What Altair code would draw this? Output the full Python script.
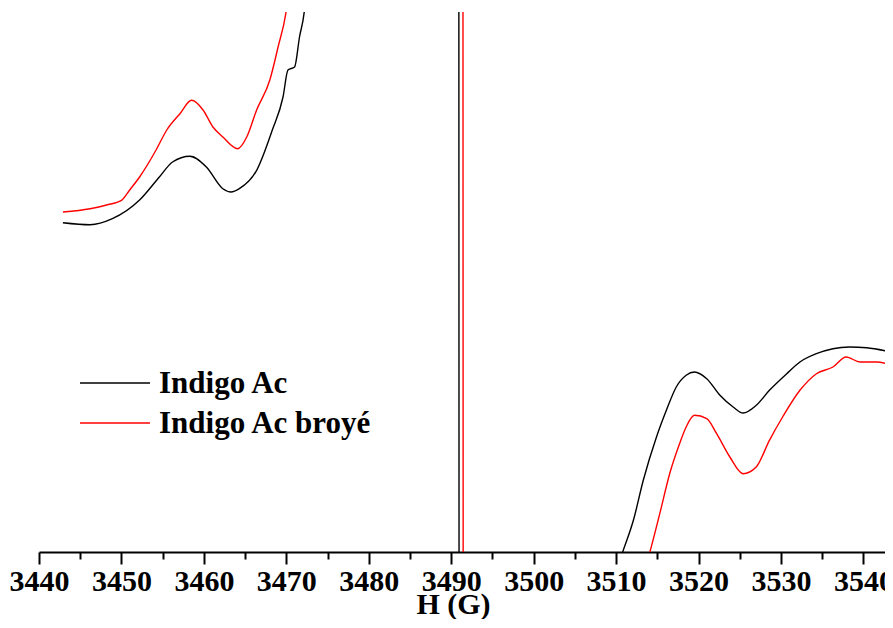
import altair as alt
import pandas as pd

# ---- data (H in gauss, intensity in arbitrary units) ----
series_names = ["Indigo Ac", "Indigo Ac broyé"]
series_colors = ["#000000", "#ff0000"]

black_h = [3442.9, 3446.2, 3448.9, 3452.2, 3454.6, 3456.2, 3458.3, 3460.3, 3462.3,
           3463.3, 3464.3, 3466.4, 3468.3, 3469.6, 3470.2, 3471.0, 3471.6, 3472.2,
           3473.0, 3476.0, 3482.0, 3490.9, 3491.0, 3500.0, 3508.0, 3509.9,
           3510.8, 3512.1, 3513.3, 3514.9, 3516.1, 3517.3, 3518.5, 3519.5, 3521.0,
           3522.6, 3524.2, 3525.4, 3527.0, 3528.6, 3530.7, 3532.3, 3534.3, 3536.3,
           3538.3, 3540.4, 3542.8]
black_i = [329.3, 327.3, 333.3, 352.0, 375.0, 390.0, 395.7, 385.0, 363.3,
           360.0, 363.3, 381.7, 422.0, 455.0, 482.0, 485.0, 515.0, 542.0,
           640.0, 900.0, 1100.0, 1300.0, -1300.0, -500.0, -70.0, -22.0,
           0.0, 31.7, 71.7, 115.0, 141.7, 165.0, 176.7, 180.0, 173.3,
           156.7, 145.0, 139.0, 146.7, 161.7, 178.3, 190.0, 198.3, 203.3,
           205.0, 204.3, 201.0]

red_h = [3442.9, 3446.2, 3448.2, 3450.0, 3451.0, 3452.2, 3454.2, 3455.5, 3457.1,
         3458.5, 3459.9, 3461.1, 3462.3, 3464.1, 3465.2, 3466.4, 3468.0, 3469.0,
         3470.0, 3471.0, 3475.0, 3491.4, 3491.5, 3500.0, 3511.0, 3513.0,
         3514.1, 3515.3, 3516.5, 3517.7, 3518.5, 3519.5, 3521.0, 3522.2, 3523.8,
         3525.4, 3527.0, 3528.6, 3530.2, 3532.3, 3534.3, 3536.3, 3537.9, 3539.6,
         3541.6, 3542.8]
red_i = [340.0, 343.3, 347.0, 351.7, 362.0, 375.0, 402.0, 422.0, 438.3,
         451.7, 442.0, 425.0, 415.0, 403.3, 415.0, 442.0, 472.0, 505.0,
         541.7, 620.0, 900.0, 1300.0, -1300.0, -800.0, -150.0, -30.0,
         0.0, 38.3, 78.3, 108.3, 125.0, 136.7, 133.3, 118.3, 95.0,
         78.3, 85.0, 111.7, 135.0, 161.7, 178.3, 185.0, 195.0, 190.0,
         190.0, 188.3]

major_ticks = [3440, 3450, 3460, 3470, 3480, 3490, 3500, 3510, 3520, 3530, 3540]
minor_ticks = [3445, 3455, 3465, 3475, 3485, 3495, 3505, 3515, 3525, 3535]
x_domain = [3440, 3542.62]
y_domain = [0, 540]

df = pd.concat([
    pd.DataFrame({"H": black_h, "I": black_i, "series": series_names[0],
                  "order": range(len(black_h))}),
    pd.DataFrame({"H": red_h, "I": red_i, "series": series_names[1],
                  "order": range(len(red_h))}),
])
legend_df = pd.DataFrame({"series": series_names, "row": [0, 1]})

FONT = "Liberation Serif"
color_scale = alt.Scale(domain=series_names, range=series_colors)

lines = alt.Chart(df).mark_line(strokeWidth=1.4, clip=True, interpolate="monotone").encode(
    x=alt.X("H:Q",
            scale=alt.Scale(domain=x_domain, nice=False, zero=False),
            axis=alt.Axis(
                title="H (G)",
                values=sorted(major_ticks + minor_ticks),
                labelExpr="datum.value % 10 == 0 ? datum.label : ''",
                format="d",
                grid=False,
                domainColor="black", domainWidth=2,
                tickColor="black", tickWidth=2,
                tickSize={"condition": {"test": "datum.value % 10 != 0", "value": 7},
                          "value": 12},
                labelFont=FONT, labelFontSize=30, labelFontWeight="bold",
                labelColor="black", labelBaseline="alphabetic", labelPadding=26,
                labelFlush=False, labelOverlap=False,
                titleFont=FONT, titleFontSize=30, titleFontWeight="bold",
                titleColor="black", titleBaseline="alphabetic",
                titleX=414, titleY=61, titleAlign="center",
            )),
    y=alt.Y("I:Q", scale=alt.Scale(domain=y_domain, nice=False, zero=False),
            axis=None),
    color=alt.Color("series:N", scale=color_scale, legend=None),
    order="order:Q",
    detail="series:N",
)

legend_y = alt.Y("row:Q", scale=alt.Scale(domain=[0, 1], range=[371, 411]), axis=None)

legend_lines = alt.Chart(legend_df).mark_rule(strokeWidth=1.4).encode(
    x=alt.value(41), x2=alt.value(111),
    y=legend_y,
    color=alt.Color("series:N", scale=color_scale, legend=None),
)
legend_text = alt.Chart(legend_df).mark_text(
    align="left", baseline="middle", font=FONT, fontSize=31, fontWeight="bold",
    color="black", dy=1,
).encode(
    x=alt.value(120),
    y=legend_y,
    text="series:N",
)

chart = alt.layer(lines, legend_lines, legend_text).resolve_scale(
    y="independent"
).properties(
    width=846, height=540,
    autosize=alt.AutoSizeParams(type="none"),
    padding={"left": 31, "top": 4, "right": 0, "bottom": 67},
).configure_view(stroke=None)

chart.save("out.html", embed_options={"renderer": "svg", "actions": False})
